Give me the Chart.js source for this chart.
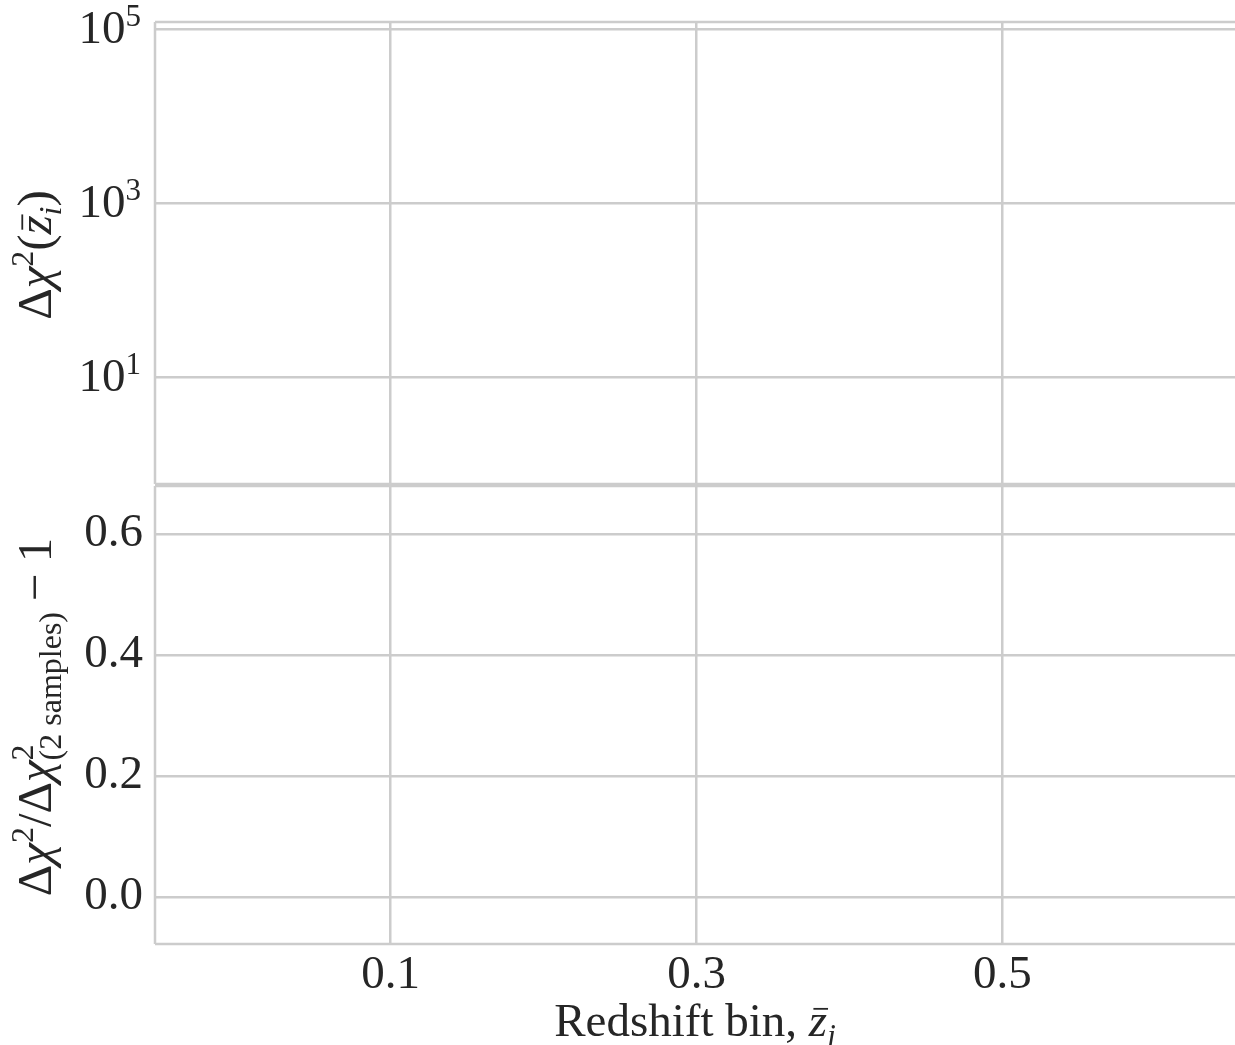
<!DOCTYPE html>
<html>
<head>
<meta charset="utf-8">
<script src="https://cdn.jsdelivr.net/npm/chart.js@4"></script>
<style>
  body { margin: 0; background: #fff; }
  #topWrap { position: absolute; left: 0; top: 0; width: 1235px; height: 485px; }
  #botWrap { position: absolute; left: 0; top: 485px; width: 1235px; height: 560px; }
</style>
</head>
<body>
<div id="topWrap"><canvas id="topChart"></canvas></div>
<div id="botWrap"><canvas id="botChart"></canvas></div>
<script>
// axis ranges and ticks
let xRange = [-0.054, 0.652];
let xTicks = [0.1, 0.3, 0.5];
let topRange = [0.59, 120000];
let topTicks = [10, 1000, 100000];
let topExponents = ['1', '3', '5'];
let botRange = [-0.078, 0.679];
let botTicks = [0.0, 0.2, 0.4, 0.6];
let botTickLabels = ['0.0', '0.2', '0.4', '0.6'];

let FAMILY = '"Liberation Serif", "DejaVu Serif", serif';
let TEXT = '#262626';
let GRID = '#cccccc';
let FS = 47;   // tick labels and x title
let YS = 49;   // y axis titles

// draw a label made of pieces (italic, sup, sub, bar over letter)
function drawRich(ctx, parts, cx, cy, size, rotate, align) {
    ctx.save();
    ctx.translate(cx, cy);
    if (rotate) ctx.rotate(-Math.PI / 2);
    let small = Math.round(size * 0.66);
    let fontFor = (it, sz) => (it ? 'italic ' : '') + sz + 'px ' + FAMILY;
    let total = 0;
    for (let p of parts) {
        if (p.sup !== undefined || p.sub !== undefined) {
            ctx.font = fontFor(p.it, small);
            let a = p.sup ? ctx.measureText(p.sup).width : 0;
            let b = p.sub ? ctx.measureText(p.sub).width : 0;
            p.w = Math.max(a, b);
        } else {
            ctx.font = fontFor(p.it, size);
            p.w = ctx.measureText(p.t).width;
        }
        total += p.w + (p.gap || 0);
    }
    let x = align === 'right' ? -total : -total / 2;
    let base = size * 0.3;
    ctx.fillStyle = TEXT;
    ctx.strokeStyle = TEXT;
    ctx.textBaseline = 'alphabetic';
    ctx.textAlign = 'left';
    for (let p of parts) {
        x += (p.gap || 0) / 2;
        if (p.sup !== undefined || p.sub !== undefined) {
            ctx.font = fontFor(p.it, small);
            if (p.sup) ctx.fillText(p.sup, x, base - size * 0.36);
            if (p.sub) ctx.fillText(p.sub, x, base + size * 0.22);
        } else {
            ctx.font = fontFor(p.it, size);
            ctx.fillText(p.t, x, base);
            if (p.bar) {
                ctx.lineWidth = 1.8;
                ctx.beginPath();
                ctx.moveTo(x + p.w * 0.25, base - size * 0.58);
                ctx.lineTo(x + p.w * 1.05, base - size * 0.58);
                ctx.stroke();
            }
        }
        x += p.w + (p.gap || 0) / 2;
    }
    ctx.restore();
}

let spines = {
    id: 'spines',
    afterDraw(chart) {
        let ctx = chart.ctx;
        let a = chart.chartArea;
        ctx.save();
        ctx.strokeStyle = GRID;
        ctx.lineWidth = 2.5;
        ctx.beginPath();
        ctx.moveTo(a.left, a.top);
        ctx.lineTo(chart.width, a.top);
        ctx.moveTo(a.left, a.bottom);
        ctx.lineTo(chart.width, a.bottom);
        ctx.moveTo(a.left, a.top);
        ctx.lineTo(a.left, a.bottom);
        ctx.stroke();
        ctx.restore();
    }
};

let titles = {
    id: 'titles',
    afterDraw(chart, args, opts) {
        let a = chart.chartArea;
        let ctx = chart.ctx;
        if (opts.y) drawRich(ctx, opts.y, 36, (a.top + a.bottom) / 2 + 2, YS, true);
        if (opts.x) drawRich(ctx, opts.x, (a.left + a.right) / 2, a.bottom + 78, FS, false);
        if (opts.powers) {
            let s = chart.scales.y;
            topTicks.forEach((v, i) => {
                let parts = [{ t: '10' }, { sup: topExponents[i] }];
                drawRich(ctx, parts, a.left - 14, s.getPixelForValue(v), FS, false, 'right');
            });
        }
    }
};

function fixedTicks(list) {
    return function (scale) {
        scale.ticks = list.map(v => ({ value: v }));
    };
}

function noOverflow(width) {
    return function (s) {
        s.width = width;
        s.paddingTop = 0;
        s.paddingBottom = 0;
    };
}

function makeX(showLabels, height) {
    return {
        type: 'linear',
        min: xRange[0],
        max: xRange[1],
        afterBuildTicks: fixedTicks(xTicks),
        afterFit(s) { s.height = height; s.paddingLeft = 0; s.paddingRight = 0; },
        border: { display: false },
        grid: { color: GRID, lineWidth: 2.5, drawTicks: false },
        ticks: {
            display: showLabels,
            color: TEXT,
            padding: 3,
            font: { family: FAMILY, size: FS },
            callback: v => v.toFixed(1)
        }
    };
}

let yTitleTop = [
    { t: '\u0394' }, { t: '\u03c7', it: true }, { sup: '2' },
    { t: '(' }, { t: 'z', it: true, bar: true }, { sub: 'i', it: true }, { t: ')' }
];
let yTitleBot = [
    { t: '\u0394' }, { t: '\u03c7', it: true }, { sup: '2' }, { t: '/' },
    { t: '\u0394' }, { t: '\u03c7', it: true }, { sup: '2', sub: '(2 samples)' },
    { t: '\u2212', gap: 22 }, { t: '1' }
];
let xTitle = [
    { t: 'Redshift bin, ' }, { t: 'z', it: true, bar: true }, { sub: 'i', it: true }
];

new Chart(document.getElementById('topChart'), {
    type: 'scatter',
    data: { datasets: [] },
    options: {
        responsive: true,
        maintainAspectRatio: false,
        animation: false,
        layout: { padding: { top: 22, bottom: 1, left: 0, right: 0 } },
        plugins: { legend: { display: false }, tooltip: { enabled: false }, titles: { y: yTitleTop, powers: true } },
        scales: {
            x: makeX(false, 0),
            y: {
                type: 'logarithmic',
                min: topRange[0],
                max: topRange[1],
                afterBuildTicks: fixedTicks(topTicks),
                afterFit: noOverflow(155),
                border: { display: false },
                grid: { color: GRID, lineWidth: 2.5, drawTicks: false },
                ticks: { display: false }
            }
        }
    },
    plugins: [spines, titles]
});

new Chart(document.getElementById('botChart'), {
    type: 'scatter',
    data: { datasets: [] },
    options: {
        responsive: true,
        maintainAspectRatio: false,
        animation: false,
        layout: { padding: { top: 1, bottom: 0, left: 0, right: 0 } },
        plugins: { legend: { display: false }, tooltip: { enabled: false }, titles: { y: yTitleBot, x: xTitle } },
        scales: {
            x: makeX(true, 101),
            y: {
                type: 'linear',
                min: botRange[0],
                max: botRange[1],
                afterBuildTicks: fixedTicks(botTicks),
                afterFit: noOverflow(155),
                border: { display: false },
                grid: { color: GRID, lineWidth: 2.5, drawTicks: false },
                ticks: {
                    color: TEXT,
                    padding: 12,
                    font: { family: FAMILY, size: FS },
                    callback: v => botTickLabels[botTicks.indexOf(v)]
                }
            }
        }
    },
    plugins: [spines, titles]
});
</script>
</body>
</html>
